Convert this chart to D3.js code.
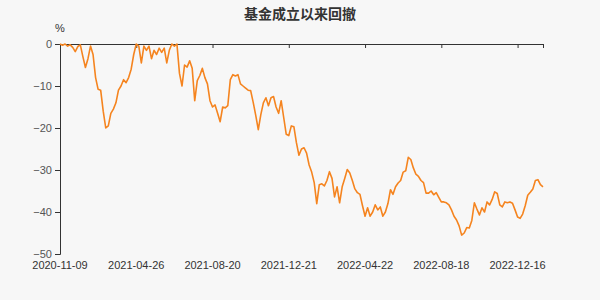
<!DOCTYPE html>
<html>
<head>
<meta charset="utf-8">
<script src="https://cdn.jsdelivr.net/npm/d3@7"></script>
<style>
  body { margin: 0; background: #f7f7f7; }
  svg { display: block; font-family: "Liberation Sans", Arial, "Noto Sans CJK SC", sans-serif; }
</style>
</head>
<body>
<svg id="chart" width="600" height="300"></svg>
<script>
// drawdown since inception (%), one value per point along the category axis
const drawdown = [
  0, -0.3, 0, -0.5, -0.2, -0.8, -1.8, -0.6, -0.2, -3,
  -5.6, -3.5, -0.5, -2.5, -8, -10.8, -11, -16, -20, -19.5,
  -16.5, -15.5, -14, -11, -10, -8.5, -9.2, -8, -6, -2.5,
  0, -0.5, -4.5, -0.5, -1.5, -0.5, -3.5, -1.5, -2.5, -1,
  -2, -1, -4.5, -1.5, 0, -0.5, 0, -7, -10, -5,
  -5.5, -4, -5.8, -13.5, -8.7, -7.5, -5.8, -8, -9.5, -13.5,
  -15, -14.5, -16.5, -18.5, -15, -15.2, -14.7, -8.5, -7.3, -7.6,
  -7.3, -9.5, -10, -10.5, -11, -11.1, -13.9, -17, -20.4, -16.8,
  -14, -12.8, -14.7, -12.8, -12.5, -15, -16.5, -13.5, -17.5, -21.5,
  -21.8, -19.5, -19.7, -23.5, -26.5, -25, -24.7, -26, -28.8, -30.5,
  -33, -38, -33.5, -33.3, -33.8, -32.5, -30.4, -32, -36.4, -34,
  -37.8, -34, -32, -29.9, -30.7, -32.5, -34.5, -35.4, -35.8, -38.5,
  -41, -39, -41, -40, -38.3, -39.5, -38.8, -41, -40, -38,
  -34.7, -35.8, -34, -33.1, -32.5, -30.5, -30.2, -27, -27.5, -29.5,
  -31, -31.5, -32.5, -33, -35.5, -35.5, -35, -35.9, -35.4, -36.5,
  -37.6, -37.6, -37.8, -38.3, -39.5, -41, -41.9, -43.3, -45.5, -45,
  -43.7, -43.8, -42, -37.8, -39.3, -40.7, -39, -40, -37.6, -38.3,
  -37, -35.2, -35.6, -38.3, -38.8, -37.6, -37.8, -37.6, -37.9, -39.5,
  -41.2, -41.5, -40.5, -38.5, -36, -35.3, -34.5, -32.5, -32.3, -33.5,
  -34
];

// category labels shown on the x axis, every 30th point
const dateLabels = ['2020-11-09', '2021-04-26', '2021-08-20', '2021-12-21', '2022-04-22', '2022-08-18', '2022-12-16'];
const labelStep = 30;

const yTicks = [0, -10, -20, -30, -40, -50];

const svg = d3.select('#chart');
const plotLeft = 60, plotRight = 543, plotTop = 44, plotBottom = 254;

const x = d3.scaleLinear().domain([0, drawdown.length - 1]).range([plotLeft, plotRight]);
const y = d3.scaleLinear().domain([-50, 0]).range([plotBottom, plotTop]);

// title
svg.append('text')
  .attr('x', 300)
  .attr('y', 19)
  .attr('text-anchor', 'middle')
  .attr('font-size', 14)
  .attr('font-weight', 'bold')
  .attr('fill', '#333')
  .attr('font-family', '"Noto Sans CJK SC", sans-serif')
  .text('基金成立以来回撤');

// unit
svg.append('text')
  .attr('x', 60)
  .attr('y', 32)
  .attr('text-anchor', 'middle')
  .attr('font-size', 11)
  .attr('fill', '#333')
  .text('%');

// y axis
const yAxis = d3.axisLeft(y).tickValues(yTicks).tickSize(5).tickPadding(3);
const gy = svg.append('g').attr('transform', `translate(${plotLeft},0)`).call(yAxis);
gy.select('.domain').attr('stroke', '#333');
gy.selectAll('.tick line').attr('stroke', '#333');
gy.selectAll('.tick text').attr('fill', '#555').attr('font-size', 11);

// x axis line sits on zero, ticks hang down
const tickIdx = dateLabels.map((d, i) => i * labelStep);
const xAxis = d3.axisBottom(x)
  .tickValues(tickIdx.concat([drawdown.length - 1]))
  .tickSize(4)
  .tickSizeOuter(0)
  .tickFormat('');
const gx = svg.append('g').attr('transform', `translate(0,${y(0)})`).call(xAxis);
gx.select('.domain').attr('stroke', '#333');
gx.selectAll('.tick line').attr('stroke', '#333');

// date labels at the bottom
svg.append('g')
  .selectAll('text')
  .data(dateLabels)
  .enter()
  .append('text')
  .attr('x', (d, i) => x(i * labelStep))
  .attr('y', 269)
  .attr('text-anchor', 'middle')
  .attr('font-size', 11)
  .attr('fill', '#333')
  .text((d) => d);

// line
const line = d3.line()
  .x((d, i) => x(i))
  .y((d) => y(d));

svg.append('path')
  .datum(drawdown)
  .attr('d', line)
  .attr('fill', 'none')
  .attr('stroke', '#f5841f')
  .attr('stroke-width', 1.6)
  .attr('stroke-linejoin', 'round');
</script>
</body>
</html>
